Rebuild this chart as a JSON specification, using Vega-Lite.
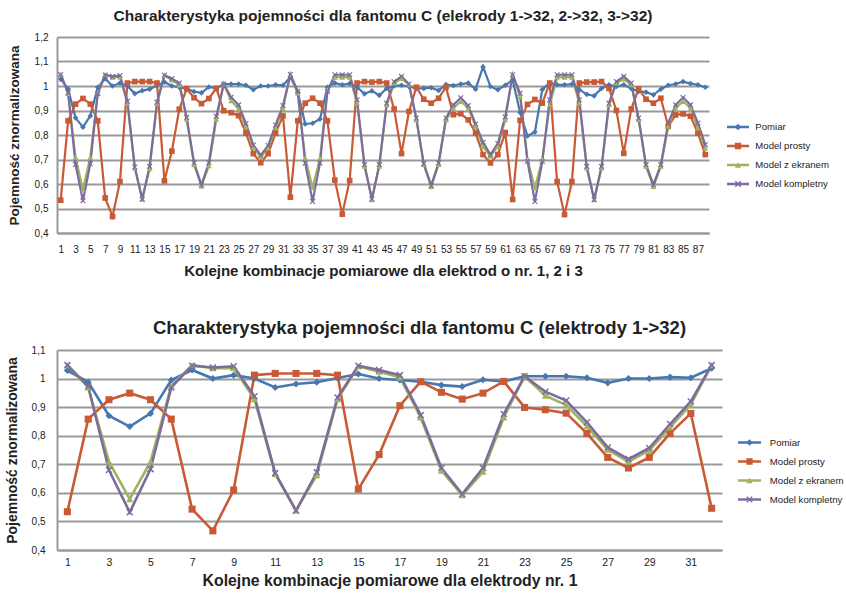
{
"$schema": "https://vega.github.io/schema/vega-lite/v6.json",
"padding": {"left": 5, "top": 8, "right": 0, "bottom": 0},
"spacing": 40,
"config": {"view": {"stroke": null}, "font": "Liberation Sans", "axis": {"labelColor": "#222", "titleColor": "#222", "labelFont": "Liberation Sans", "titleFont": "Liberation Sans"}, "title": {"color": "#222", "font": "Liberation Sans"},
 "legend": {"padding": 0, "labelFontSize": 9.6, "labelFont": "Liberation Sans", "labelColor": "#222", "rowPadding": 4, "clipHeight": 15}},
"resolve": {"scale": {"x": "independent", "y": "independent", "fill": "independent", "stroke": "independent", "shape": "independent"}},
"datasets": {
"top": [
{"nr":1,"Pomiar":1.028,"Model prosty":0.534,"Model z ekranem":1.047,"Model kompletny":1.047},
{"nr":2,"Pomiar":0.988,"Model prosty":0.858,"Model z ekranem":0.969,"Model kompletny":0.973},
{"nr":3,"Pomiar":0.870,"Model prosty":0.926,"Model z ekranem":0.709,"Model kompletny":0.680},
{"nr":4,"Pomiar":0.832,"Model prosty":0.949,"Model z ekranem":0.578,"Model kompletny":0.532},
{"nr":5,"Pomiar":0.878,"Model prosty":0.926,"Model z ekranem":0.709,"Model kompletny":0.683},
{"nr":6,"Pomiar":0.995,"Model prosty":0.858,"Model z ekranem":0.975,"Model kompletny":0.969},
{"nr":7,"Pomiar":1.030,"Model prosty":0.543,"Model z ekranem":1.047,"Model kompletny":1.045},
{"nr":8,"Pomiar":1.000,"Model prosty":0.467,"Model z ekranem":1.036,"Model kompletny":1.039},
{"nr":9,"Pomiar":1.012,"Model prosty":0.610,"Model z ekranem":1.037,"Model kompletny":1.043},
{"nr":10,"Pomiar":1.000,"Model prosty":1.012,"Model z ekranem":0.928,"Model kompletny":0.938},
{"nr":11,"Pomiar":0.969,"Model prosty":1.018,"Model z ekranem":0.666,"Model kompletny":0.669},
{"nr":12,"Pomiar":0.981,"Model prosty":1.018,"Model z ekranem":0.538,"Model kompletny":0.538},
{"nr":13,"Pomiar":0.987,"Model prosty":1.018,"Model z ekranem":0.662,"Model kompletny":0.672},
{"nr":14,"Pomiar":1.002,"Model prosty":1.012,"Model z ekranem":0.928,"Model kompletny":0.934},
{"nr":15,"Pomiar":1.016,"Model prosty":0.613,"Model z ekranem":1.043,"Model kompletny":1.045},
{"nr":16,"Pomiar":1.000,"Model prosty":0.734,"Model z ekranem":1.024,"Model kompletny":1.030},
{"nr":17,"Pomiar":0.995,"Model prosty":0.905,"Model z ekranem":1.004,"Model kompletny":1.012},
{"nr":18,"Pomiar":0.989,"Model prosty":0.989,"Model z ekranem":0.864,"Model kompletny":0.872},
{"nr":19,"Pomiar":0.977,"Model prosty":0.952,"Model z ekranem":0.678,"Model kompletny":0.687},
{"nr":20,"Pomiar":0.972,"Model prosty":0.928,"Model z ekranem":0.592,"Model kompletny":0.596},
{"nr":21,"Pomiar":0.996,"Model prosty":0.949,"Model z ekranem":0.674,"Model kompletny":0.687},
{"nr":22,"Pomiar":0.990,"Model prosty":0.990,"Model z ekranem":0.864,"Model kompletny":0.876},
{"nr":23,"Pomiar":1.008,"Model prosty":0.899,"Model z ekranem":1.008,"Model kompletny":1.008},
{"nr":24,"Pomiar":1.008,"Model prosty":0.891,"Model z ekranem":0.940,"Model kompletny":0.954},
{"nr":25,"Pomiar":1.008,"Model prosty":0.879,"Model z ekranem":0.907,"Model kompletny":0.923},
{"nr":26,"Pomiar":1.003,"Model prosty":0.808,"Model z ekranem":0.833,"Model kompletny":0.847},
{"nr":27,"Pomiar":0.985,"Model prosty":0.724,"Model z ekranem":0.751,"Model kompletny":0.759},
{"nr":28,"Pomiar":1.000,"Model prosty":0.687,"Model z ekranem":0.709,"Model kompletny":0.718},
{"nr":29,"Pomiar":1.000,"Model prosty":0.724,"Model z ekranem":0.748,"Model kompletny":0.757},
{"nr":30,"Pomiar":1.005,"Model prosty":0.808,"Model z ekranem":0.829,"Model kompletny":0.841},
{"nr":31,"Pomiar":1.003,"Model prosty":0.878,"Model z ekranem":0.909,"Model kompletny":0.920},
{"nr":32,"Pomiar":1.036,"Model prosty":0.546,"Model z ekranem":1.047,"Model kompletny":1.047},
{"nr":33,"Pomiar":0.975,"Model prosty":0.858,"Model z ekranem":0.970,"Model kompletny":0.978},
{"nr":34,"Pomiar":0.845,"Model prosty":0.930,"Model z ekranem":0.706,"Model kompletny":0.685},
{"nr":35,"Pomiar":0.848,"Model prosty":0.950,"Model z ekranem":0.585,"Model kompletny":0.529},
{"nr":36,"Pomiar":0.865,"Model prosty":0.930,"Model z ekranem":0.706,"Model kompletny":0.686},
{"nr":37,"Pomiar":0.995,"Model prosty":0.858,"Model z ekranem":0.985,"Model kompletny":0.978},
{"nr":38,"Pomiar":1.012,"Model prosty":0.616,"Model z ekranem":1.035,"Model kompletny":1.046},
{"nr":39,"Pomiar":1.005,"Model prosty":0.477,"Model z ekranem":1.035,"Model kompletny":1.046},
{"nr":40,"Pomiar":1.010,"Model prosty":0.614,"Model z ekranem":1.036,"Model kompletny":1.046},
{"nr":41,"Pomiar":0.995,"Model prosty":1.012,"Model z ekranem":0.930,"Model kompletny":0.944},
{"nr":42,"Pomiar":0.968,"Model prosty":1.018,"Model z ekranem":0.672,"Model kompletny":0.679},
{"nr":43,"Pomiar":0.980,"Model prosty":1.016,"Model z ekranem":0.536,"Model kompletny":0.539},
{"nr":44,"Pomiar":0.962,"Model prosty":1.018,"Model z ekranem":0.672,"Model kompletny":0.679},
{"nr":45,"Pomiar":0.990,"Model prosty":1.012,"Model z ekranem":0.923,"Model kompletny":0.930},
{"nr":46,"Pomiar":1.000,"Model prosty":0.906,"Model z ekranem":1.012,"Model kompletny":1.018},
{"nr":47,"Pomiar":1.003,"Model prosty":0.724,"Model z ekranem":1.030,"Model kompletny":1.039},
{"nr":48,"Pomiar":0.998,"Model prosty":0.896,"Model z ekranem":1.005,"Model kompletny":1.008},
{"nr":49,"Pomiar":0.990,"Model prosty":0.995,"Model z ekranem":0.862,"Model kompletny":0.869},
{"nr":50,"Pomiar":0.990,"Model prosty":0.946,"Model z ekranem":0.679,"Model kompletny":0.683},
{"nr":51,"Pomiar":0.993,"Model prosty":0.930,"Model z ekranem":0.590,"Model kompletny":0.594},
{"nr":52,"Pomiar":0.982,"Model prosty":0.950,"Model z ekranem":0.679,"Model kompletny":0.686},
{"nr":53,"Pomiar":1.006,"Model prosty":0.995,"Model z ekranem":0.862,"Model kompletny":0.869},
{"nr":54,"Pomiar":1.002,"Model prosty":0.883,"Model z ekranem":0.910,"Model kompletny":0.923},
{"nr":55,"Pomiar":1.008,"Model prosty":0.887,"Model z ekranem":0.937,"Model kompletny":0.952},
{"nr":56,"Pomiar":1.012,"Model prosty":0.862,"Model z ekranem":0.910,"Model kompletny":0.920},
{"nr":57,"Pomiar":0.987,"Model prosty":0.808,"Model z ekranem":0.835,"Model kompletny":0.845},
{"nr":58,"Pomiar":1.078,"Model prosty":0.720,"Model z ekranem":0.753,"Model kompletny":0.770},
{"nr":59,"Pomiar":0.998,"Model prosty":0.686,"Model z ekranem":0.713,"Model kompletny":0.720},
{"nr":60,"Pomiar":0.985,"Model prosty":0.720,"Model z ekranem":0.753,"Model kompletny":0.765},
{"nr":61,"Pomiar":1.003,"Model prosty":0.810,"Model z ekranem":0.862,"Model kompletny":0.874},
{"nr":62,"Pomiar":1.025,"Model prosty":0.537,"Model z ekranem":1.046,"Model kompletny":1.046},
{"nr":63,"Pomiar":0.892,"Model prosty":0.860,"Model z ekranem":0.957,"Model kompletny":0.970},
{"nr":64,"Pomiar":0.796,"Model prosty":0.925,"Model z ekranem":0.700,"Model kompletny":0.692},
{"nr":65,"Pomiar":0.812,"Model prosty":0.945,"Model z ekranem":0.585,"Model kompletny":0.529},
{"nr":66,"Pomiar":0.985,"Model prosty":0.930,"Model z ekranem":0.700,"Model kompletny":0.692},
{"nr":67,"Pomiar":1.012,"Model prosty":1.012,"Model z ekranem":0.923,"Model kompletny":0.944},
{"nr":68,"Pomiar":1.005,"Model prosty":0.610,"Model z ekranem":1.035,"Model kompletny":1.046},
{"nr":69,"Pomiar":1.005,"Model prosty":0.475,"Model z ekranem":1.035,"Model kompletny":1.046},
{"nr":70,"Pomiar":1.008,"Model prosty":0.610,"Model z ekranem":1.036,"Model kompletny":1.046},
{"nr":71,"Pomiar":0.985,"Model prosty":1.012,"Model z ekranem":0.930,"Model kompletny":0.944},
{"nr":72,"Pomiar":0.966,"Model prosty":1.016,"Model z ekranem":0.665,"Model kompletny":0.672},
{"nr":73,"Pomiar":0.960,"Model prosty":1.016,"Model z ekranem":0.536,"Model kompletny":0.536},
{"nr":74,"Pomiar":0.990,"Model prosty":1.018,"Model z ekranem":0.665,"Model kompletny":0.672},
{"nr":75,"Pomiar":1.005,"Model prosty":0.990,"Model z ekranem":0.923,"Model kompletny":0.930},
{"nr":76,"Pomiar":0.998,"Model prosty":0.900,"Model z ekranem":1.012,"Model kompletny":1.018},
{"nr":77,"Pomiar":1.005,"Model prosty":0.725,"Model z ekranem":1.028,"Model kompletny":1.039},
{"nr":78,"Pomiar":0.990,"Model prosty":0.906,"Model z ekranem":1.005,"Model kompletny":1.012},
{"nr":79,"Pomiar":0.978,"Model prosty":0.988,"Model z ekranem":0.862,"Model kompletny":0.869},
{"nr":80,"Pomiar":0.975,"Model prosty":0.946,"Model z ekranem":0.672,"Model kompletny":0.679},
{"nr":81,"Pomiar":0.964,"Model prosty":0.930,"Model z ekranem":0.590,"Model kompletny":0.597},
{"nr":82,"Pomiar":0.987,"Model prosty":0.950,"Model z ekranem":0.672,"Model kompletny":0.679},
{"nr":83,"Pomiar":1.003,"Model prosty":0.835,"Model z ekranem":0.835,"Model kompletny":0.849},
{"nr":84,"Pomiar":1.008,"Model prosty":0.882,"Model z ekranem":0.910,"Model kompletny":0.923},
{"nr":85,"Pomiar":1.018,"Model prosty":0.886,"Model z ekranem":0.937,"Model kompletny":0.953},
{"nr":86,"Pomiar":1.010,"Model prosty":0.877,"Model z ekranem":0.910,"Model kompletny":0.923},
{"nr":87,"Pomiar":1.005,"Model prosty":0.808,"Model z ekranem":0.828,"Model kompletny":0.849},
{"nr":88,"Pomiar":0.995,"Model prosty":0.720,"Model z ekranem":0.747,"Model kompletny":0.760}
],
"bottom": [
{"nr":1,"Pomiar":1.028,"Model prosty":0.534,"Model z ekranem":1.047,"Model kompletny":1.047},
{"nr":2,"Pomiar":0.988,"Model prosty":0.858,"Model z ekranem":0.969,"Model kompletny":0.973},
{"nr":3,"Pomiar":0.870,"Model prosty":0.926,"Model z ekranem":0.709,"Model kompletny":0.680},
{"nr":4,"Pomiar":0.832,"Model prosty":0.949,"Model z ekranem":0.578,"Model kompletny":0.532},
{"nr":5,"Pomiar":0.878,"Model prosty":0.926,"Model z ekranem":0.709,"Model kompletny":0.683},
{"nr":6,"Pomiar":0.995,"Model prosty":0.858,"Model z ekranem":0.975,"Model kompletny":0.969},
{"nr":7,"Pomiar":1.030,"Model prosty":0.543,"Model z ekranem":1.047,"Model kompletny":1.045},
{"nr":8,"Pomiar":1.000,"Model prosty":0.467,"Model z ekranem":1.036,"Model kompletny":1.039},
{"nr":9,"Pomiar":1.012,"Model prosty":0.610,"Model z ekranem":1.037,"Model kompletny":1.043},
{"nr":10,"Pomiar":1.000,"Model prosty":1.012,"Model z ekranem":0.928,"Model kompletny":0.938},
{"nr":11,"Pomiar":0.969,"Model prosty":1.018,"Model z ekranem":0.666,"Model kompletny":0.669},
{"nr":12,"Pomiar":0.981,"Model prosty":1.018,"Model z ekranem":0.538,"Model kompletny":0.538},
{"nr":13,"Pomiar":0.987,"Model prosty":1.018,"Model z ekranem":0.662,"Model kompletny":0.672},
{"nr":14,"Pomiar":1.002,"Model prosty":1.012,"Model z ekranem":0.928,"Model kompletny":0.934},
{"nr":15,"Pomiar":1.016,"Model prosty":0.613,"Model z ekranem":1.043,"Model kompletny":1.045},
{"nr":16,"Pomiar":1.000,"Model prosty":0.734,"Model z ekranem":1.024,"Model kompletny":1.030},
{"nr":17,"Pomiar":0.995,"Model prosty":0.905,"Model z ekranem":1.004,"Model kompletny":1.012},
{"nr":18,"Pomiar":0.989,"Model prosty":0.989,"Model z ekranem":0.864,"Model kompletny":0.872},
{"nr":19,"Pomiar":0.977,"Model prosty":0.952,"Model z ekranem":0.678,"Model kompletny":0.687},
{"nr":20,"Pomiar":0.972,"Model prosty":0.928,"Model z ekranem":0.592,"Model kompletny":0.596},
{"nr":21,"Pomiar":0.996,"Model prosty":0.949,"Model z ekranem":0.674,"Model kompletny":0.687},
{"nr":22,"Pomiar":0.990,"Model prosty":0.990,"Model z ekranem":0.864,"Model kompletny":0.876},
{"nr":23,"Pomiar":1.008,"Model prosty":0.899,"Model z ekranem":1.008,"Model kompletny":1.008},
{"nr":24,"Pomiar":1.008,"Model prosty":0.891,"Model z ekranem":0.940,"Model kompletny":0.954},
{"nr":25,"Pomiar":1.008,"Model prosty":0.879,"Model z ekranem":0.907,"Model kompletny":0.923},
{"nr":26,"Pomiar":1.003,"Model prosty":0.808,"Model z ekranem":0.833,"Model kompletny":0.847},
{"nr":27,"Pomiar":0.985,"Model prosty":0.724,"Model z ekranem":0.751,"Model kompletny":0.759},
{"nr":28,"Pomiar":1.000,"Model prosty":0.687,"Model z ekranem":0.709,"Model kompletny":0.718},
{"nr":29,"Pomiar":1.000,"Model prosty":0.724,"Model z ekranem":0.748,"Model kompletny":0.757},
{"nr":30,"Pomiar":1.005,"Model prosty":0.808,"Model z ekranem":0.829,"Model kompletny":0.841},
{"nr":31,"Pomiar":1.003,"Model prosty":0.878,"Model z ekranem":0.909,"Model kompletny":0.920},
{"nr":32,"Pomiar":1.036,"Model prosty":0.546,"Model z ekranem":1.047,"Model kompletny":1.047}
]
},
"vconcat": [
{
"width": 652, "height": 196,
"title": {"text": "Charakterystyka pojemności dla fantomu C (elekrody 1->32, 2->32, 3->32)", "fontSize": 15.5, "fontWeight": "bold", "offset": 8},
"data": {"name": "top"},
"transform": [{"fold": ["Pomiar", "Model prosty", "Model z ekranem", "Model kompletny"], "as": ["series", "value"]}],
"encoding": {
"x": {"field": "nr", "type": "quantitative", "scale": {"domain": [0.5, 88.5], "nice": false, "zero": false},
 "axis": {"values": [1,3,5,7,9,11,13,15,17,19,21,23,25,27,29,31,33,35,37,39,41,43,45,47,49,51,53,55,57,59,61,63,65,67,69,71,73,75,77,79,81,83,85,87], "title": "Kolejne kombinacje pomiarowe dla elektrod o nr. 1, 2 i 3", "grid": false, "ticks": false, "domainColor": "#999999", "domainWidth": 2, "labelFontSize": 10, "labelPadding": 11, "titleFontSize": 15, "titleFontWeight": "bold", "titlePadding": 9}},
"y": {"field": "value", "type": "quantitative", "scale": {"domain": [0.4, 1.2], "nice": false, "zero": false},
 "axis": {"values": [0.4,0.5,0.6,0.7,0.8,0.9,1.0,1.1,1.2], "labelExpr": "replace(format(datum.value, '.1~f'), '.', ',')", "grid": true, "gridColor": "#999999", "gridWidth": 2, "domainColor": "#999999", "domainWidth": 2, "ticks": false, "labelFontSize": 10, "labelPadding": 9, "title": "Pojemność znormalizowana", "titleFontSize": 13.5, "titleFontWeight": "bold", "titlePadding": 13}}
},
"layer": [
{"mark": {"type": "line", "strokeWidth": 2.2},
 "encoding": {"stroke": {"field": "series", "type": "nominal", "sort": ["Pomiar", "Model prosty", "Model z ekranem", "Model kompletny"], "scale": {"range": ["#4677B0", "#C85A35", "#9BB55E", "#7F6A9E"]},
  "legend": {"orient": "none", "legendX": 668.5, "legendY": 82.5, "title": null, "symbolType": "stroke", "symbolSize": 484, "symbolStrokeWidth": 2.5, "labelExpr": "''"}}}},
{"mark": {"type": "point", "filled": true, "size": 32, "opacity": 1},
 "encoding": {
 "fill": {"field": "series", "type": "nominal", "scale": {"domain": ["Pomiar", "Model prosty", "Model z ekranem", "Model kompletny"], "range": ["#4677B0", "#C85A35", "#9BB55E", "#7F6A9E"]},
  "legend": {"orient": "none", "legendX": 668.5, "legendY": 82.5, "title": null, "symbolSize": 40, "symbolStrokeWidth": 0, "symbolOffset": 7.7, "labelOffset": 12.5}},
 "shape": {"field": "series", "type": "nominal", "scale": {"domain": ["Pomiar", "Model prosty", "Model z ekranem", "Model kompletny"], "range": ["diamond", "square", "triangle-up", "M-1,-0.7L-0.7,-1L1,0.7L0.7,1ZM-0.7,1L-1,0.7L0.7,-1L1,-0.7Z"]},
  "legend": {"orient": "none", "legendX": 668.5, "legendY": 82.5, "title": null, "symbolSize": 40, "symbolStrokeWidth": 0, "symbolOffset": 7.7, "labelOffset": 12.5}}
 }}
]
},
{
"width": 665, "height": 200,
"title": {"text": "Charakterystyka pojemności dla fantomu C (elektrody 1->32)", "fontSize": 18.5, "fontWeight": "bold", "offset": 8, "dx": 30},
"data": {"name": "bottom"},
"transform": [{"fold": ["Pomiar", "Model prosty", "Model z ekranem", "Model kompletny"], "as": ["series", "value"]}],
"encoding": {
"x": {"field": "nr", "type": "quantitative", "scale": {"domain": [0.5, 32.5], "nice": false, "zero": false},
 "axis": {"values": [1,3,5,7,9,11,13,15,17,19,21,23,25,27,29,31], "title": "Kolejne kombinacje pomiarowe dla elektrody nr. 1", "grid": false, "ticks": false, "domainColor": "#999999", "domainWidth": 2, "labelFontSize": 10.5, "labelPadding": 7, "titleFontSize": 15.8, "titleFontWeight": "bold", "titlePadding": 6}},
"y": {"field": "value", "type": "quantitative", "scale": {"domain": [0.4, 1.1], "nice": false, "zero": false},
 "axis": {"values": [0.4,0.5,0.6,0.7,0.8,0.9,1.0,1.1], "labelExpr": "replace(format(datum.value, '.1~f'), '.', ',')", "grid": true, "gridColor": "#999999", "gridWidth": 2, "domainColor": "#999999", "domainWidth": 2, "ticks": false, "labelFontSize": 10, "labelPadding": 12, "title": "Pojemność znormalizowana", "titleFontSize": 14, "titleFontWeight": "bold", "titlePadding": 12}}
},
"layer": [
{"mark": {"type": "line", "strokeWidth": 2.6},
 "encoding": {"stroke": {"field": "series", "type": "nominal", "sort": ["Pomiar", "Model prosty", "Model z ekranem", "Model kompletny"], "scale": {"range": ["#4677B0", "#C85A35", "#9BB55E", "#7F6A9E"]},
  "legend": {"orient": "none", "legendX": 679.5, "legendY": 85, "title": null, "symbolType": "stroke", "symbolSize": 529, "symbolStrokeWidth": 2.5, "labelExpr": "''"}}}},
{"mark": {"type": "point", "filled": true, "size": 50, "opacity": 1},
 "encoding": {
 "fill": {"field": "series", "type": "nominal", "scale": {"domain": ["Pomiar", "Model prosty", "Model z ekranem", "Model kompletny"], "range": ["#4677B0", "#C85A35", "#9BB55E", "#7F6A9E"]},
  "legend": {"orient": "none", "legendX": 679.5, "legendY": 85, "title": null, "symbolSize": 40, "symbolStrokeWidth": 0, "symbolOffset": 8.2, "labelOffset": 15.5}},
 "shape": {"field": "series", "type": "nominal", "scale": {"domain": ["Pomiar", "Model prosty", "Model z ekranem", "Model kompletny"], "range": ["diamond", "square", "triangle-up", "M-1,-0.7L-0.7,-1L1,0.7L0.7,1ZM-0.7,1L-1,0.7L0.7,-1L1,-0.7Z"]},
  "legend": {"orient": "none", "legendX": 679.5, "legendY": 85, "title": null, "symbolSize": 40, "symbolStrokeWidth": 0, "symbolOffset": 8.2, "labelOffset": 15.5}}
 }}
]
}
]
}
